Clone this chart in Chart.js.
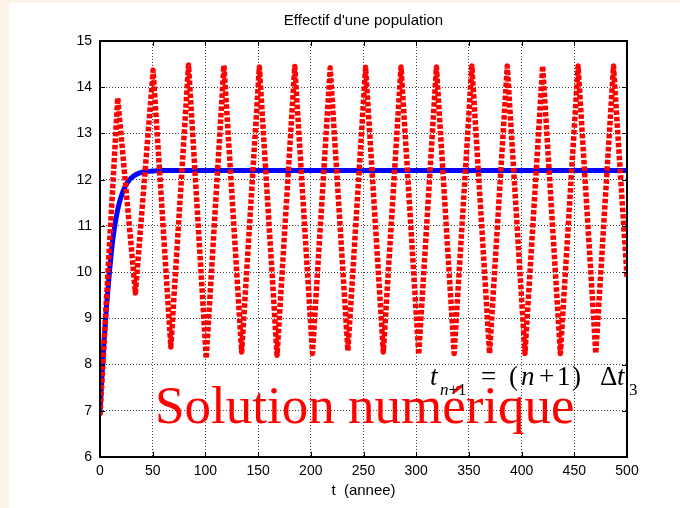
<!DOCTYPE html>
<html>
<head>
<meta charset="utf-8">
<script src="https://cdn.jsdelivr.net/npm/chart.js"></script>
<style>
  html, body { margin: 0; padding: 0; }
  body { width: 680px; height: 508px; background: #fcf2e5; position: relative; overflow: hidden; }
  #panneau { position: absolute; left: 9px; top: 3px; right: 0; bottom: 0; background: #fff; }
  #graphe { position: absolute; left: 0; top: 0; }
  .texte { position: absolute; white-space: pre; }
  #titre { left: 100px; width: 527px; top: 11px; text-align: center; font: 15px "Liberation Sans", Arial, sans-serif; line-height: 18px; color: #000; }
  #solution { left: 155px; top: 379px; font: 53px "Liberation Serif", serif; line-height: 53px; color: #f00; }
  .f { position: absolute; white-space: pre; font-family: "Liberation Serif", serif; color: #000; }
  .g { font-size: 27px; line-height: 27px; top: 363px; }
  .p { font-size: 17px; line-height: 17px; top: 381px; }
</style>
</head>
<body>
<div id="panneau"></div>
<canvas id="graphe" width="680" height="508"></canvas>
<div id="titre" class="texte">Effectif d'une population</div>
<div id="solution" class="texte">Solution numérique</div>
<span class="f g" style="left:430px"><i>t</i></span>
<span class="f p" style="left:440px"><i>n</i>+1</span>
<span class="f g" style="left:481px">=</span>
<span class="f g" style="left:509px">(</span>
<span class="f g" style="left:521px"><i>n</i></span>
<span class="f g" style="left:539px">+</span>
<span class="f g" style="left:557px">1</span>
<span class="f g" style="left:572px">)</span>
<span class="f g" style="left:600px">Δ</span>
<span class="f g" style="left:617px"><i>t</i></span>
<span class="f p" style="left:629px">3</span>
<script>
// Solution exacte (courbe bleue)
const tempsExact = [0, 2, 4, 6, 8, 10, 12, 14, 16, 18, 20, 24, 28, 32, 36, 40, 45, 50, 60, 80, 500];
const effectifExact = [7.0, 7.8, 8.55, 9.2, 9.75, 10.25, 10.68, 11.0, 11.26, 11.47, 11.63, 11.86, 12.0, 12.08, 12.13, 12.16, 12.18, 12.19, 12.2, 12.2, 12.2];

// Solution numérique (pointillés rouges)
const tempsNum = [0, 16.8, 33.6, 50.4, 67.2, 84, 100.8, 117.6, 134.4, 151.2, 168, 184.8, 201.6, 218.4, 235.2,
  252, 268.8, 285.6, 302.4, 319.2, 336, 352.8, 369.6, 386.4, 403.2, 420, 436.8, 453.6, 470.4, 487.2, 500];
const effectifNum = [6.9, 13.77, 9.55, 14.37, 8.38, 14.48, 8.13, 14.47, 8.27, 14.44, 8.2, 14.45, 8.24, 14.42, 8.3,
  14.43, 8.27, 14.44, 8.22, 14.44, 8.24, 14.46, 8.24, 14.46, 8.24, 14.46, 8.24, 14.46, 8.24, 14.46, 9.9];

// Graduations
const ticksT = [0, 50, 100, 150, 200, 250, 300, 350, 400, 450, 500];
const ticksN = [6, 7, 8, 9, 10, 11, 12, 13, 14, 15];

const police = { family: "'Liberation Sans', Arial, sans-serif", size: 14 };

// Cadre noir + petites graduations vers l'intérieur (style MATLAB)
const cadre = {
  id: "cadre",
  afterDatasetsDraw(chart) {
    const { ctx, chartArea: a, scales } = chart;
    ctx.save();
    ctx.strokeStyle = "#000";
    ctx.lineWidth = 1;
    ctx.beginPath();
    scales.x.ticks.forEach((t) => {
      const px = Math.round(scales.x.getPixelForValue(t.value)) + 0.5;
      ctx.moveTo(px, a.bottom); ctx.lineTo(px, a.bottom - 5);
      ctx.moveTo(px, a.top); ctx.lineTo(px, a.top + 5);
    });
    scales.y.ticks.forEach((t) => {
      const py = Math.round(scales.y.getPixelForValue(t.value)) + 0.5;
      ctx.moveTo(a.left, py); ctx.lineTo(a.left + 5, py);
      ctx.moveTo(a.right, py); ctx.lineTo(a.right - 5, py);
    });
    ctx.stroke();
    ctx.lineWidth = 2;
    ctx.strokeRect(a.left, a.top, a.right - a.left, a.bottom - a.top);
    ctx.restore();
  }
};

new Chart(document.getElementById("graphe"), {
  type: "line",
  data: {
    datasets: [
      {
        label: "Solution numérique",
        data: tempsNum.map((t, i) => ({ x: t, y: effectifNum[i] })),
        borderColor: "#ff0000",
        borderWidth: 5.5,
        borderDash: [4.5, 2],
        borderJoinStyle: "round",
        pointRadius: 0,
        tension: 0,
        order: 0
      },
      {
        label: "Solution exacte",
        data: tempsExact.map((t, i) => ({ x: t, y: effectifExact[i] })),
        borderColor: "#0000ff",
        borderWidth: 5,
        pointRadius: 0,
        cubicInterpolationMode: "monotone",
        order: 1
      }
    ]
  },
  options: {
    responsive: false,
    animation: false,
    layout: { padding: { top: 41, right: 53, left: 0, bottom: 0 } },
    plugins: { legend: { display: false }, tooltip: { enabled: false } },
    scales: {
      x: {
        type: "linear",
        min: 0,
        max: 500,
        afterBuildTicks: (s) => { s.ticks = ticksT.map((v) => ({ value: v })); },
        afterFit: (s) => { s.height = 51; },
        grid: { color: "#444", lineWidth: 1, drawTicks: false },
        border: { display: false, dash: [1, 2] },
        ticks: { color: "#000", font: police, padding: 6, maxRotation: 0 },
        title: { display: true, text: "t  (annee)", color: "#000", font: { ...police, size: 15 }, padding: { top: 0, bottom: 8 } }
      },
      y: {
        min: 6,
        max: 15,
        afterBuildTicks: (s) => { s.ticks = ticksN.map((v) => ({ value: v })); },
        afterFit: (s) => { s.width = 100; },
        grid: { color: "#444", lineWidth: 1, drawTicks: false },
        border: { display: false, dash: [1, 2] },
        ticks: { color: "#000", font: police, padding: 8 }
      }
    }
  },
  plugins: [cadre]
});
</script>
</body>
</html>
